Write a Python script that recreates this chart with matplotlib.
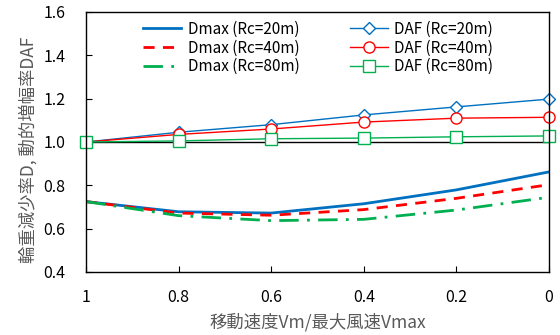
import matplotlib
matplotlib.use("Agg")
import matplotlib.pyplot as plt

plt.rcParams['font.family'] = ['Noto Sans CJK JP', 'DejaVu Sans']

# speed ratio Vm/Vmax
speed_ratio = [1.0, 0.8, 0.6, 0.4, 0.2, 0.0]

# wheel load reduction rate D
dmax_20 = [0.725, 0.678, 0.672, 0.715, 0.779, 0.862]
dmax_40 = [0.725, 0.672, 0.662, 0.688, 0.740, 0.803]
dmax_80 = [0.725, 0.660, 0.637, 0.643, 0.686, 0.745]

# dynamic amplification factor
daf_20 = [1.000, 1.045, 1.080, 1.125, 1.162, 1.198]
daf_40 = [1.000, 1.035, 1.060, 1.092, 1.110, 1.114]
daf_80 = [1.000, 1.005, 1.015, 1.018, 1.024, 1.028]

blue, red, green = '#0070C0', '#FF0000', '#00B050'

fig = plt.figure(figsize=(5.6, 3.35), dpi=100)
ax = fig.add_axes([86 / 560, 63 / 335, 463 / 560, 260 / 335])

ax.axhline(1.0, color='black', lw=1.0, zorder=1)

ax.plot(speed_ratio, dmax_20, color=blue, lw=2, label='Dmax (Rc=20m)')
ax.plot(speed_ratio, dmax_40, color=red, lw=2, ls=(0, (4, 3)), label='Dmax (Rc=40m)')
ax.plot(speed_ratio, dmax_80, color=green, lw=2, ls=(0, (7, 3, 1, 3)), label='Dmax (Rc=80m)')

ax.plot(speed_ratio, daf_20, color=blue, lw=1, marker='D', ms=6.5, mfc='white', mew=1,
        label='DAF (Rc=20m)', clip_on=False)
ax.plot(speed_ratio, daf_40, color=red, lw=1, marker='o', ms=8, mfc='white', mew=1,
        label='DAF (Rc=40m)', clip_on=False)
ax.plot(speed_ratio, daf_80, color=green, lw=1, marker='s', ms=8, mfc='white', mew=1,
        label='DAF (Rc=80m)', clip_on=False)

ax.set_xlim(1, 0)
ax.set_ylim(0.4, 1.6)
ax.set_xticks([1, 0.8, 0.6, 0.4, 0.2, 0])
ax.set_xticklabels(['1', '0.8', '0.6', '0.4', '0.2', '0'])
ax.set_yticks([0.4, 0.6, 0.8, 1.0, 1.2, 1.4, 1.6])
ax.set_yticklabels(['0.4', '0.6', '0.8', '1.0', '1.2', '1.4', '1.6'])
ax.tick_params(direction='in', length=4, labelsize=11.5)
ax.tick_params(axis='y', pad=15)
ax.tick_params(axis='x', pad=12)
for s in ax.spines.values():
    s.set_linewidth(1.0)

ax.set_xlabel('移動速度Vm/最大風速Vmax', fontsize=12.5, color='#595959', labelpad=5)
ax.set_ylabel('輪重減少率D, 動的増幅率DAF', fontsize=12.5, color='#595959')
ax.yaxis.set_label_coords(-0.104, 0.47)

ax.legend(ncol=2, frameon=False, fontsize=11, loc='upper left',
          bbox_to_anchor=(0.094, 1.02), handlelength=2.5, columnspacing=3.3,
          labelspacing=0.12, handletextpad=0.4)

fig.savefig('out.png', dpi=100)
